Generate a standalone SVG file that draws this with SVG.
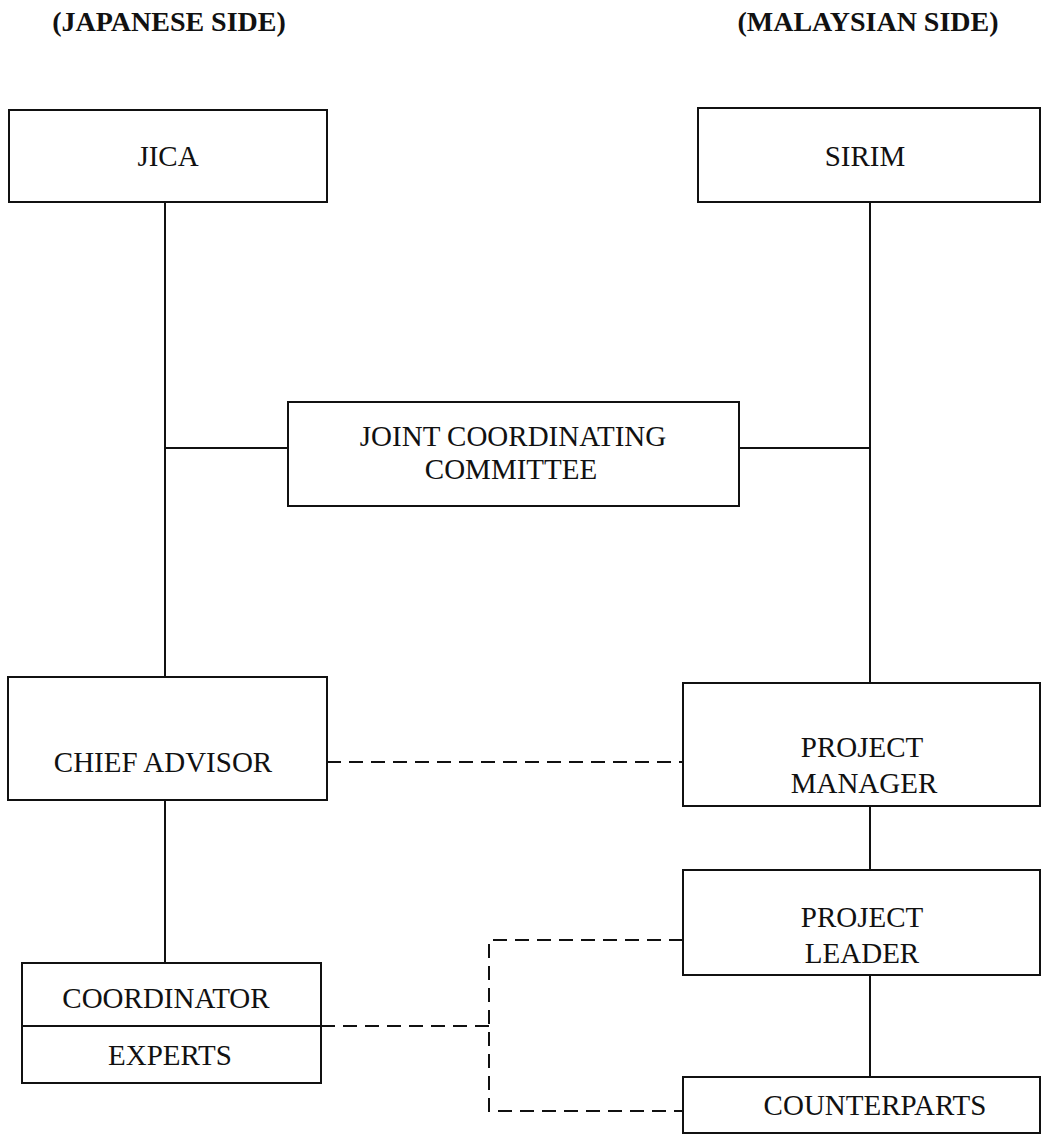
<svg xmlns="http://www.w3.org/2000/svg" width="1041" height="1137" viewBox="0 0 1041 1137">
<style>
.box{fill:#fff;stroke:#111;stroke-width:2}
.ln{stroke:#111;stroke-width:2;fill:none}
.dash{stroke:#111;stroke-width:2;fill:none;stroke-dasharray:14 8}
.hd{font-family:"Liberation Serif","Times New Roman",serif;font-weight:bold;font-size:28px;fill:#111;text-anchor:middle}
.t{font-family:"Liberation Serif","Times New Roman",serif;font-size:29px;fill:#111;text-anchor:middle}
</style>
<rect width="1041" height="1137" fill="#fff"/>
<text class="hd" x="169" y="31">(JAPANESE SIDE)</text>
<text class="hd" x="868" y="31">(MALAYSIAN SIDE)</text>
<g id="connectors">
<line class="ln" x1="165" y1="202" x2="165" y2="677"/>
<line class="ln" x1="870" y1="202" x2="870" y2="683"/>
<line class="ln" x1="165" y1="448" x2="288" y2="448"/>
<line class="ln" x1="739" y1="448" x2="870" y2="448"/>
<line class="ln" x1="165" y1="800" x2="165" y2="963"/>
<line class="ln" x1="870" y1="806" x2="870" y2="870"/>
<line class="ln" x1="870" y1="975" x2="870" y2="1077"/>
<line class="dash" x1="327" y1="762" x2="683" y2="762"/>
<line class="dash" x1="321" y1="1026" x2="489" y2="1026"/>
<polyline class="dash" points="683,940 489,940 489,1111 683,1111"/>
</g>
<g id="jica"><rect class="box" x="9" y="110" width="318" height="92"/><text class="t" x="168" y="166">JICA</text></g>
<g id="sirim"><rect class="box" x="698" y="108" width="342" height="94"/><text class="t" x="865" y="166">SIRIM</text></g>
<g id="jcc"><rect class="box" x="288" y="402" width="451" height="104"/><text class="t" x="513" y="446">JOINT COORDINATING</text><text class="t" x="511" y="479">COMMITTEE</text></g>
<g id="chief"><rect class="box" x="8" y="677" width="319" height="123"/><text class="t" x="163" y="772">CHIEF ADVISOR</text></g>
<g id="pm"><rect class="box" x="683" y="683" width="357" height="123"/><text class="t" x="862" y="757">PROJECT</text><text class="t" x="864" y="793">MANAGER</text></g>
<g id="coord"><rect class="box" x="22" y="963" width="299" height="120"/><line class="ln" x1="22" y1="1026" x2="321" y2="1026"/><text class="t" x="166" y="1008">COORDINATOR</text><text class="t" x="170" y="1065">EXPERTS</text></g>
<g id="pl"><rect class="box" x="683" y="870" width="357" height="105"/><text class="t" x="862" y="927">PROJECT</text><text class="t" x="862" y="963">LEADER</text></g>
<g id="cp"><rect class="box" x="683" y="1077" width="357" height="56"/><text class="t" x="875" y="1115">COUNTERPARTS</text></g>
</svg>
